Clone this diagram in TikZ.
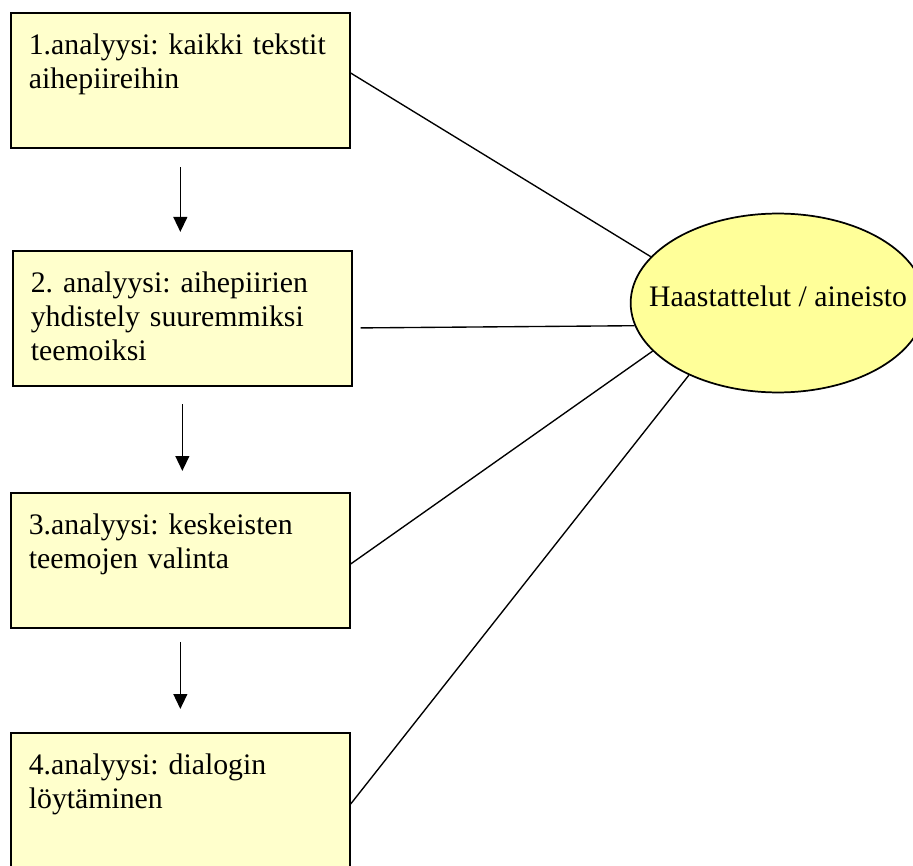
\documentclass[tikz,border=0pt]{standalone}
\usepackage{fontspec}
\setmainfont{Liberation Serif}
\usetikzlibrary{arrows.meta,positioning,calc,shapes.geometric}
\definecolor{boxYellow}{RGB}{255,255,204}
\definecolor{hubYellow}{RGB}{255,255,153}
\tikzset{
	abox/.style={
		draw=black,
		fill=boxYellow,
		line width=0.7pt,
		anchor=north west,
		align=left,
		text width=122.1pt,
		inner xsep=7.25pt,
		inner ysep=0pt,
		text height=16.9pt,
		text depth=37.6pt,
		font=\fontsize{12}{13.7}\selectfont\frenchspacing
	},
	hub/.style={
		ellipse,
		draw=black,
		fill=hubYellow,
		line width=0.7pt,
		minimum width=118.5pt,
		minimum height=72.1pt,
		inner xsep=-10pt,
		inner ysep=0pt,
		text height=8.2pt,
		text depth=5pt,
		font=\fontsize{12}{13.7}\selectfont\frenchspacing
	},
	darr/.style={-{Triangle[length=6pt,width=5.6pt]}, line width=0.55pt},
	link/.style={line width=0.55pt}
}

\begin{document}
\begin{tikzpicture}[x=0.403pt, y=-0.403pt]
		\useasboundingbox (0,0) rectangle (913,865);
		\node[abox] (an1) at (10,12) {1.analyysi: kaikki tekstit\\aihepiireihin};
		\node[abox] (an2) at (12,250) {2. analyysi: aihepiirien\\yhdistely suuremmiksi\\teemoiksi};
		\node[abox] (an3) at (10,492) {3.analyysi: keskeisten\\teemojen valinta};
		\node[abox] (an4) at (10,732) {4.analyysi: dialogin\\löytäminen};
		\node[hub] (data) at (778,303) {Haastattelut / aineisto};
		\draw[darr, shorten <=7.3pt, shorten >=7.3pt] (an1.south) -- (an1.south |- an2.north);
		\draw[darr, shorten <=6.9pt, shorten >=8.5pt] (an2.south) -- (an2.south |- an3.north);
		\draw[darr, shorten <=5.2pt, shorten >=9.3pt] (an3.south) -- (an3.south |- an4.north);
		\draw[link] ([yshift=3pt]an1.east) -- (data.160);
		\draw[link] ([xshift=3.2pt, yshift=-3.8pt]an2.east) -- (data.189);
		\draw[link] ([yshift=-1.4pt]an3.east) -- (data.201);
		\draw[link] ([yshift=-1.4pt]an4.east) -- (data.219);
	\end{tikzpicture}
\end{document}
